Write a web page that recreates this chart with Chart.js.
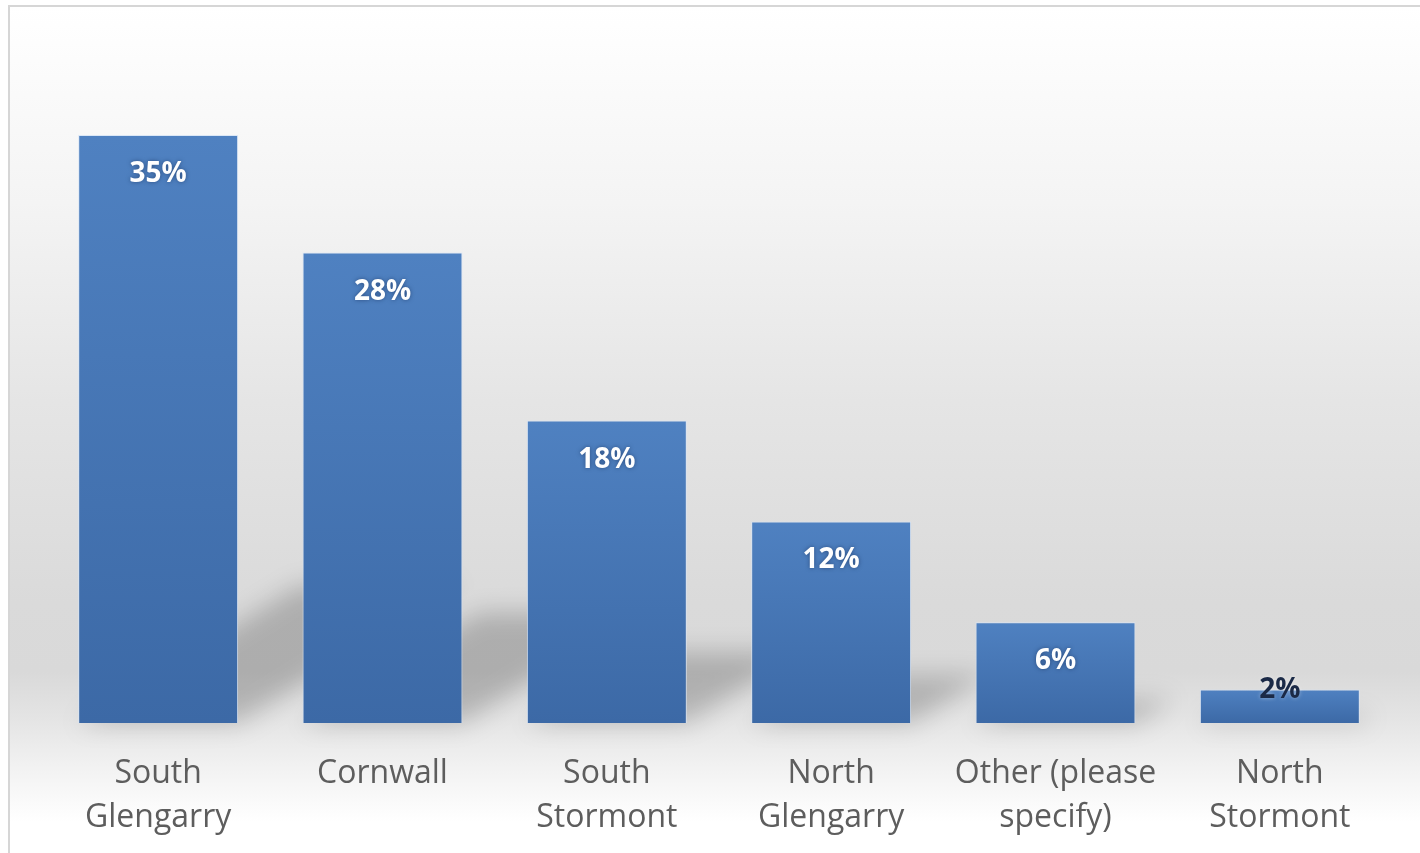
<!DOCTYPE html>
<html>
<head>
<meta charset="utf-8">
<title>Municipality</title>
<script src="https://cdn.jsdelivr.net/npm/chart.js@4.4.1/dist/chart.umd.min.js"></script>
<style>
  html, body { margin: 0; padding: 0; background: #fff; overflow: hidden; }
  #frame {
    position: absolute; left: 8px; top: 5px; width: 1420px; height: 860px;
    border-left: 2px solid #d6d6d6; border-top: 2px solid #d6d6d6;
    background: linear-gradient(to bottom, #ffffff 0px, #f4f4f4 195px, #e5e5e5 395px,
      #dadada 595px, #d9d9d9 665px, #e5e5e5 715px, #f3f3f3 765px, #ffffff 815px);
  }
  #wrap { position: absolute; left: 0; top: 0; width: 1420px; height: 853px; overflow: hidden; }
</style>
</head>
<body>
<div id="frame"></div>
<div id="wrap"><canvas id="chart" width="1420" height="883"></canvas></div>
<script>
// categories and their share of responses (%)
const categories = [
    ['South', 'Glengarry'],
    'Cornwall',
    ['South', 'Stormont'],
    ['North', 'Glengarry'],
    ['Other (please', 'specify)'],
    ['North', 'Stormont']
];
const shares = [35, 28, 18, 12, 6, 2];

const barTop = '#4f81c1';
const barBottom = '#3c69a6';

// soft perspective shadow lying behind each bar, skewed to the upper right
const floorShadow = {
    id: 'floorShadow',
    beforeDatasetsDraw(chart) {
        const ctx = chart.ctx;
        const bars = chart.getDatasetMeta(0).data;
        ctx.save();
        ctx.filter = 'blur(12px)';
        ctx.fillStyle = 'rgba(0,0,0,0.2)';
        bars.forEach(bar => {
            const { x, y, base, width } = bar.getProps(['x', 'y', 'base', 'width'], true);
            const rise = (base - y) * 0.234;
            const run = rise * 1.61;
            const l = x - width / 2, r = x + width / 2;
            ctx.beginPath();
            ctx.moveTo(l, base);
            ctx.lineTo(r, base);
            ctx.lineTo(r + run, base - rise);
            ctx.lineTo(l + run, base - rise);
            ctx.closePath();
            ctx.fill();
        });
        ctx.restore();
    }
};

// percentage labels near the top of each bar
const valueLabels = {
    id: 'valueLabels',
    afterDatasetsDraw(chart) {
        const ctx = chart.ctx;
        const bars = chart.getDatasetMeta(0).data;
        ctx.save();
        ctx.font = 'bold 28px "Open Sans"';
        ctx.textAlign = 'center';
        ctx.textBaseline = 'middle';
        bars.forEach((bar, i) => {
            const { x, y, base } = bar.getProps(['x', 'y', 'base'], true);
            const tall = base - y > 70;
            ctx.fillStyle = tall ? '#ffffff' : '#1b2a47';
            ctx.shadowColor = tall ? 'rgba(20,40,80,0.55)' : 'rgba(255,255,255,0.4)';
            ctx.shadowBlur = 4;
            ctx.fillText(shares[i] + '%', x, tall ? y + 39 : y + 1);
        });
        ctx.restore();
    }
};

new Chart(document.getElementById('chart'), {
    type: 'bar',
    data: {
        labels: categories,
        datasets: [{
            data: shares,
            backgroundColor(c) {
                const chart = c.chart;
                if (!chart.chartArea || c.type !== 'data') return barTop;
                const y = chart.scales.y;
                const g = chart.ctx.createLinearGradient(0, y.getPixelForValue(c.raw), 0, y.getPixelForValue(0));
                g.addColorStop(0, barTop);
                g.addColorStop(1, barBottom);
                return g;
            },
            borderColor: 'rgba(214,228,246,0.85)',
            borderWidth: 1,
            barPercentage: 0.713,
            categoryPercentage: 1
        }]
    },
    options: {
        responsive: false,
        devicePixelRatio: 1,
        animation: false,
        layout: { padding: { left: 46, right: 28, top: 51, bottom: 14 } },
        plugins: { legend: { display: false }, tooltip: { enabled: false } },
        scales: {
            x: {
                grid: { display: false, drawTicks: false },
                border: { display: false },
                ticks: {
                    color: '#5d5d5d',
                    font: { family: '"Open Sans"', size: 32, lineHeight: 1.375 },
                    padding: 29,
                    maxRotation: 0,
                    autoSkip: false
                }
            },
            y: { display: false, min: 0, max: 40 }
        }
    },
    plugins: [floorShadow, valueLabels]
});
</script>
</body>
</html>
